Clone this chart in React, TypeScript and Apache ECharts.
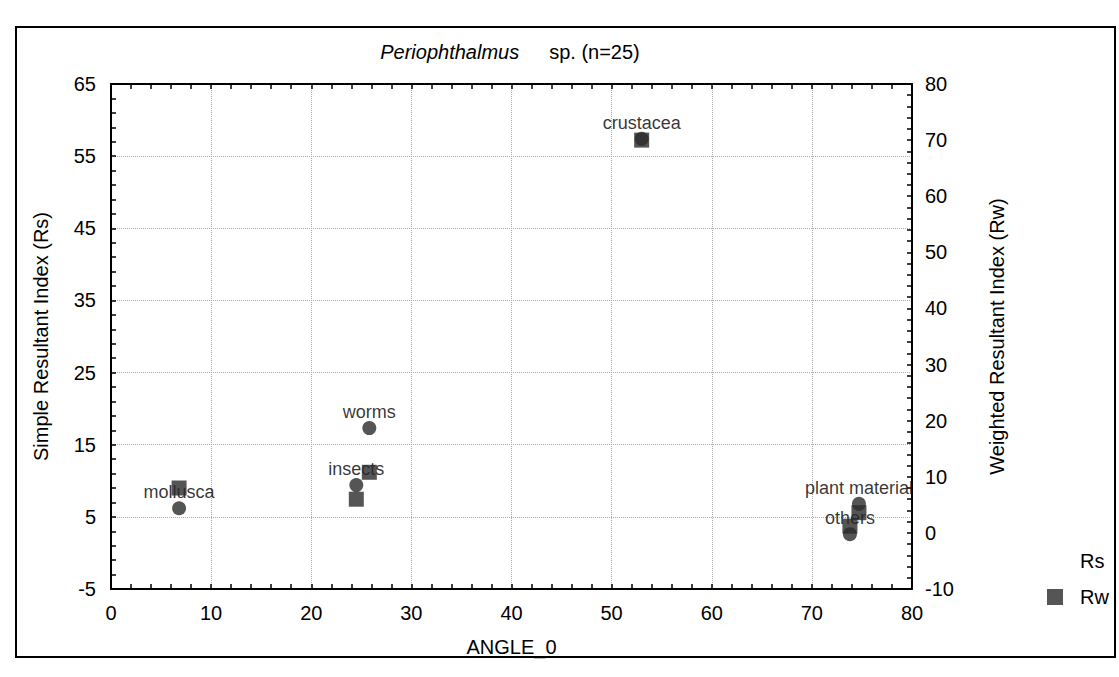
import React, { useEffect, useRef } from "react";
import * as echarts from "echarts";

const categories = ["mollusca", "insects", "worms", "crustacea", "plant material", "others"];
const angles = [6.8, 24.5, 25.8, 53.0, 74.7, 73.8];
const rsValues = [6.2, 9.4, 17.3, 57.4, 6.8, 2.6];
const rwValues = [8.0, 6.0, 10.8, 70.0, 3.6, 1.2];

const FONT = "Liberation Sans, Arial, Helvetica, sans-serif";

export default function App() {
  const ref = useRef<HTMLDivElement>(null);
  useEffect(() => {
    if (!ref.current) return;
    const chart = echarts.init(ref.current, undefined, { renderer: "svg" });
    const axisLine = { show: true, onZero: false, lineStyle: { color: "#000", width: 2 } };
    const tick = { show: true, inside: true, length: 5, lineStyle: { color: "#000", width: 1.5 } };
    const minor = { show: true, splitNumber: 5, length: 5, lineStyle: { color: "#000", width: 1.5 } };
    const grid = { show: true, lineStyle: { color: "#aaa", type: "dotted", width: 1 } };
    const rsData = categories.map((c, i) => ({ name: c, value: [angles[i], rsValues[i]] }));
    const rwData = categories.map((c, i) => ({ name: c, value: [angles[i], rwValues[i]] }));
    chart.setOption({
      animation: false,
      backgroundColor: "#fff",
      textStyle: { fontFamily: FONT, color: "#000" },
      title: {
        text: "{i|Periophthalmus}{n|sp. (n=25)}",
        left: 505,
        top: 37,
        textAlign: "center",
        textStyle: {
          fontWeight: "normal",
          rich: {
            i: { fontFamily: FONT, fontSize: 20, fontStyle: "italic", fontWeight: "normal", color: "#000", padding: [0, 30, 0, 0] },
            n: { fontFamily: FONT, fontSize: 20, fontWeight: "normal", color: "#000" },
          },
        },
      },
      legend: {
        orient: "vertical",
        left: 1042,
        top: 546,
        itemWidth: 16,
        itemHeight: 16,
        itemGap: 16,
        textStyle: { fontFamily: FONT, fontSize: 20, color: "#000", padding: [0, 0, 0, 12] },
        data: [
          { name: "Rs", itemStyle: { color: "rgba(0,0,0,0)", opacity: 0 } },
          { name: "Rw", icon: "rect" },
        ],
      },
      grid: { left: 111, top: 84, width: 801, height: 505 },
      xAxis: [
        {
          type: "value",
          position: "bottom",
          min: 0,
          max: 80,
          interval: 10,
          name: "ANGLE_0",
          nameLocation: "middle",
          nameGap: 48,
          nameTextStyle: { fontFamily: FONT, fontSize: 20, color: "#000" },
          axisLine,
          axisTick: tick,
          minorTick: minor,
          splitLine: grid,
          axisLabel: { fontFamily: FONT, fontSize: 20, color: "#000", margin: 14 },
        },
        {
          type: "value",
          position: "top",
          min: 0,
          max: 80,
          interval: 10,
          axisLine,
          axisTick: tick,
          minorTick: minor,
          splitLine: { show: false },
          axisLabel: { show: false },
        },
      ],
      yAxis: [
        {
          type: "value",
          position: "left",
          min: -5,
          max: 65,
          interval: 10,
          name: "Simple Resultant Index (Rs)",
          nameLocation: "middle",
          nameRotate: 90,
          nameGap: 60,
          nameTextStyle: { fontFamily: FONT, fontSize: 20, color: "#000" },
          axisLine,
          axisTick: tick,
          minorTick: minor,
          splitLine: grid,
          axisLabel: { fontFamily: FONT, fontSize: 20, color: "#000", margin: 15 },
        },
        {
          type: "value",
          position: "right",
          min: -10,
          max: 80,
          interval: 10,
          name: "Weighted Resultant Index (Rw)",
          nameLocation: "middle",
          nameRotate: 90,
          nameGap: 75,
          nameTextStyle: { fontFamily: FONT, fontSize: 20, color: "#000" },
          axisLine,
          axisTick: tick,
          minorTick: minor,
          splitLine: { show: false },
          axisLabel: { fontFamily: FONT, fontSize: 20, color: "#000", margin: 13 },
        },
      ],
      graphic: [
        {
          type: "rect",
          shape: { x: 16, y: 27, width: 1099, height: 630 },
          style: { fill: "none", stroke: "#000", lineWidth: 2 },
          silent: true,
          z: -1,
        },
      ],
      series: [
        {
          name: "Rs",
          type: "scatter",
          xAxisIndex: 0,
          yAxisIndex: 0,
          symbol: "circle",
          symbolSize: 14,
          z: 2,
          itemStyle: { color: "#2b2b2b" },
          label: {
            show: true,
            position: "top",
            distance: 0,
            formatter: "{b}",
            fontFamily: FONT,
            fontSize: 18,
            color: "#000",
          },
          data: rsData,
        },
        {
          name: "Rw",
          type: "scatter",
          xAxisIndex: 0,
          yAxisIndex: 1,
          symbol: "rect",
          symbolSize: 15,
          z: 3,
          itemStyle: { color: "#2b2b2b" },
          data: rwData,
        },
      ],
    });
    return () => chart.dispose();
  }, []);
  return (
    <div
      ref={ref}
      style={{ position: "fixed", left: 0, top: 0, width: 1119, height: 677, background: "#fff" }}
    />
  );
}
